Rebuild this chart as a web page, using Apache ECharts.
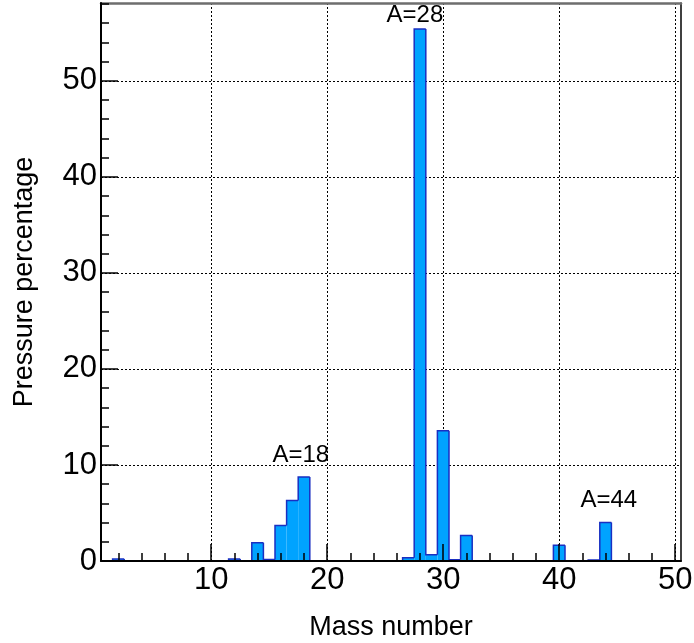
<!DOCTYPE html>
<html>
<head>
<meta charset="utf-8">
<script src="https://cdn.jsdelivr.net/npm/echarts@6/dist/echarts.min.js"></script>
<style>
html,body{margin:0;padding:0;background:#fff;}
#chart{width:694px;height:643px;}
</style>
</head>
<body>
<div id="chart"></div>
<script>
// ---- data ----
var massNumbers = [1,2,3,4,5,6,7,8,9,10,11,12,13,14,15,16,17,18,19,20,21,22,23,24,25,26,27,28,29,30,31,32,33,34,35,36,37,38,39,40,41,42,43,44,45,46,47,48,49,50];
var pressurePct = [0,0.2,0,0,0,0,0,0,0,0,0,0.2,0,1.9,0.15,3.7,6.3,8.75,0,0,0,0,0,0,0,0,0.35,55.4,0.65,13.55,0.12,2.65,0,0,0,0,0,0,0,1.63,0,0,0.1,4.0,0,0,0,0,0,0];
var xMajorTicks = [10,20,30,40,50];
var xMinorTicks = [2,4,6,8,12,14,16,18,22,24,26,28,32,34,36,38,42,44,46,48];
var yMajorTicks = [0,10,20,30,40,50];
var yMinorTicks = [2,4,6,8,12,14,16,18,22,24,26,28,32,34,36,38,42,44,46,48,52,54,56,58];
var annotText = ['A=18','A=28','A=44'];
var annotX = [17.72, 27.56, 44.28];
var annotY = [10.96, 56.84, 6.27];

var X_MIN = 0.5, X_MAX = 50.5, Y_MIN = 0, Y_MAX = 58.1;
var FONT = "'Liberation Sans', Arial, Helvetica, sans-serif";
var FILL = '#00a3ff', EDGE = '#1a2fc2';

var chart = echarts.init(document.getElementById('chart'), null, {renderer:'canvas'});

var binData = massNumbers.map(function(m, i){ return [m, pressurePct[i]]; });
var annotData = annotText.map(function(t, i){ return [annotX[i], annotY[i], t]; });

function baseX(extra){
  return Object.assign({type:'value', min:X_MIN, max:X_MAX, gridIndex:0,
    axisLine:{show:false}, axisTick:{show:false}, axisLabel:{show:false}, splitLine:{show:false}}, extra);
}
function baseY(extra){
  return Object.assign({type:'value', min:Y_MIN, max:Y_MAX, gridIndex:0,
    axisLine:{show:false}, axisTick:{show:false}, axisLabel:{show:false}, splitLine:{show:false}}, extra);
}

var option = {
  animation:false,
  backgroundColor:'#fff',
  grid:{left:101, right:13, top:3, bottom:82, containLabel:false, outerBoundsMode:'none'},
  xAxis:[
    baseX({position:'bottom', z:10,
      axisLine:{show:true, onZero:false, lineStyle:{color:'#000', width:2}},
      axisTick:{show:true, inside:true, length:17, customValues:xMajorTicks, lineStyle:{color:'#000', width:1.5}},
      axisLabel:{show:true, customValues:xMajorTicks, fontSize:31, color:'#000', fontFamily:FONT, margin:4},
      name:'Mass number', nameLocation:'middle', nameGap:53,
      nameTextStyle:{fontSize:27, color:'#000', fontFamily:FONT}
    }),
    baseX({position:'bottom', z:10,
      axisTick:{show:true, inside:true, length:8, customValues:xMinorTicks, lineStyle:{color:'#000', width:1.5}}
    }),
    baseX({position:'top', z:0,
      axisLine:{show:true, onZero:false, lineStyle:{color:'#6e6e6e', width:2.5}},
      axisTick:{show:false, customValues:xMajorTicks},
      splitLine:{show:true, lineStyle:{color:'#000', width:1, type:[2,2]}}
    })
  ],
  yAxis:[
    baseY({position:'left', z:10,
      axisLine:{show:true, onZero:false, lineStyle:{color:'#000', width:2}},
      axisTick:{show:true, inside:true, length:17, customValues:yMajorTicks, lineStyle:{color:'#000', width:1.5}},
      axisLabel:{show:true, customValues:yMajorTicks, fontSize:31, color:'#000', fontFamily:FONT, margin:4},
      name:'Pressure percentage', nameLocation:'middle', nameGap:63,
      nameTextStyle:{fontSize:27, color:'#000', fontFamily:FONT}
    }),
    baseY({position:'left', z:10,
      axisTick:{show:true, inside:true, length:8, customValues:yMinorTicks, lineStyle:{color:'#000', width:1.5}}
    }),
    baseY({position:'right', z:0,
      axisLine:{show:true, onZero:false, lineStyle:{color:'#000', width:1.5}},
      axisTick:{show:false, customValues:yMajorTicks.slice(1)},
      splitLine:{show:true, lineStyle:{color:'#000', width:1, type:[2,2]}}
    })
  ],
  series:[
    {
      type:'custom', xAxisIndex:0, yAxisIndex:0, z:5, clip:true,
      encode:{x:0, y:1},
      data:binData,
      renderItem:function(params, api){
        var i = params.dataIndex;
        var x = api.value(0), v = api.value(1);
        var prev = i > 0 ? pressurePct[i-1] : 0;
        var bl = api.coord([x-0.5, 0]);
        var tr = api.coord([x+0.5, v]);
        var pl = api.coord([x-0.5, prev]);
        var tl = api.coord([x-0.5, v]);
        var children = [];
        if (v > 0) {
          children.push({type:'rect', shape:{x:bl[0], y:tr[1], width:tr[0]-bl[0], height:bl[1]-tr[1]},
            style:{fill:FILL}});
        }
        var pts = [pl, tl, tr];
        if (i === pressurePct.length - 1) pts.push(api.coord([x+0.5, 0]));
        children.push({type:'polyline', shape:{points:pts}, style:{stroke:EDGE, lineWidth:1.5, fill:null}});
        return {type:'group', children:children};
      }
    },
    {
      type:'custom', xAxisIndex:0, yAxisIndex:0, z:6,
      encode:{x:0, y:1},
      data:annotData,
      renderItem:function(params, api){
        var p = api.coord([api.value(0), api.value(1)]);
        return {type:'text', x:p[0], y:p[1],
          style:{text:annotText[params.dataIndex], align:'center', verticalAlign:'middle',
            fontSize:24, fontFamily:FONT, fill:'#000'}};
      }
    }
  ]
};
chart.setOption(option);
</script>
</body>
</html>
